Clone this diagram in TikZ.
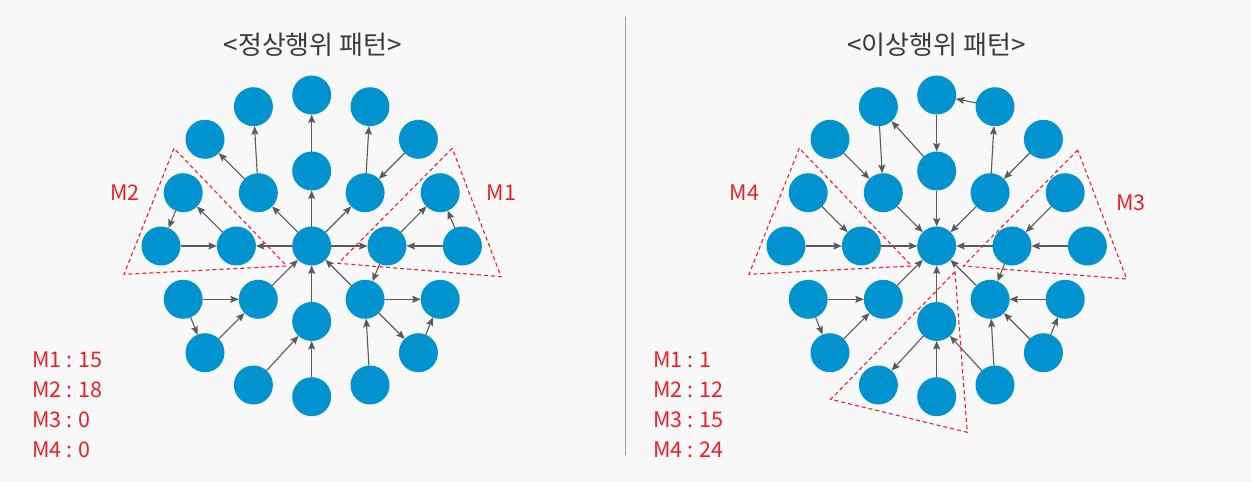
\documentclass[tikz,border=0pt]{standalone}
\usepackage{fontspec}
\setmainfont{Noto Sans CJK KR}
\usetikzlibrary{arrows.meta}
\definecolor{bg}{HTML}{F8F8F8}
\definecolor{nodeblue}{HTML}{0093D0}
\definecolor{arrowgray}{HTML}{5A5A5A}
\definecolor{mred}{HTML}{E8202A}
\definecolor{titlegray}{HTML}{3A3A3A}
\definecolor{sepgray}{HTML}{A0A0A0}
\newcommand\graphnodes[2]{%
  \foreach \n/\dx/\dy in {c/0/0, iN/0/-75, iNE/53.4/-53.3, iE/75.3/0, iSE/53.4/53.3, iS/0/75.5, iSW/-53.4/53.3, iW/-75.3/0, iNW/-53.4/-53.3,
      oN/0/-151, oNNE/58.3/-139.3, oNE/106.7/-106.7, oENE/128.5/-53.3, oE/150.7/0, oESE/128.5/53.3, oSE/106.7/106.7, oSSE/58.3/139,
      oS/0/150.7, oSSW/-58.3/139, oSW/-106.7/106.7, oWSW/-128.5/53.3, oW/-150.7/0, oWNW/-128.5/-53.3, oNW/-106.7/-106.7, oNNW/-58.3/-139.3}
    {\path (#2,246) ++(\dx,\dy) node[dot] (#1\n) {};}%
}
\begin{document}
\begin{tikzpicture}[x=1pt,y=-1pt,
  dot/.style={circle, fill=nodeblue, minimum size=39pt, inner sep=0pt, outer sep=0pt},
  arr/.style={draw=arrowgray, line width=1.1pt, -{Stealth[length=8.5pt,width=7pt,inset=1.5pt]}},
  motif/.style={draw=mred, dash pattern=on 4pt off 3pt, line width=1.1pt},
  mlabel/.style={text=mred, font=\fontsize{21.5}{25}\selectfont, inner sep=0pt},
  title/.style={text=titlegray, font=\fontsize{26}{30}\selectfont, inner sep=0pt, anchor=base}]
\fill[bg] (0,0) rectangle (1251,482);
\useasboundingbox (0,0) rectangle (1251,482);
% separator
\coordinate (sepTop) at (625,17);
\coordinate (sepBot) at (625,455);
\draw[sepgray, line width=1pt] (sepTop) -- (sepBot);
% titles
\node[title] (tL) at (312.8,54) {<정상행위 패턴>};
\node[title] (tR) at (936.5,54) {<이상행위 패턴>};
% motif triangles (behind)
\draw[motif] (174,148.3) -- (124,274.3) -- (286.7,266) -- cycle;
\draw[motif] (452.3,148.3) -- (338.3,263.3) -- (501,276.7) -- cycle;
\draw[motif] (799.3,148.3) -- (749,274.3) -- (911.7,266) -- cycle;
\draw[motif] (1077.7,150) -- (963.3,266) -- (1126.7,279) -- cycle;
\draw[motif] (955,271.7) -- (830.7,399.3) -- (967.3,432.3) -- cycle;
% nodes
\graphnodes{L}{311.7}
\graphnodes{R}{936.7}
% left edges
\foreach \a/\b in {c/iN, iN/oN, c/iNW, iNW/oNNW, iNW/oNW, c/iNE, iNE/oNNE, oNE/iNE, c/iW, oW/iW, iW/oWNW, oWNW/oW,
   c/iE, oE/iE, iE/oENE, oE/oENE, iE/iSE, iSE/c, iSE/oESE, iSE/oSE, oSE/oESE, oSSE/iSE, iS/c, oS/iS, oSSW/iS,
   iSW/c, oWSW/iSW, oWSW/oSW, oSW/iSW}
  {\draw[arr] (L\a) -- (L\b);}
% right edges
\foreach \a/\b in {iN/c, oN/iN, oNNE/oN, iN/oNNW, oNNW/iNW, oNW/iNW, iNW/c, iNE/oNNE, oNE/iNE, iNE/c, oWNW/iW, oW/iW, iW/c,
   oENE/iE, oE/iE, iE/c, iE/iSE, iSE/c, oESE/iSE, oSE/iSE, oSE/oESE, oSSE/iSE, oSSE/iS, oS/iS, iS/oSSW, iS/c,
   iSW/c, oWSW/iSW, oWSW/oSW, oSW/iSW}
  {\draw[arr] (R\a) -- (R\b);}
% motif labels
\node[mlabel] (m2) at (125,192.7) {M2};
\node[mlabel] (m1) at (501.5,192.7) {M1};
\node[mlabel] (m4) at (744.5,192.7) {M4};
\node[mlabel] (m3) at (1131,202.7) {M3};
% counts
\node[mlabel, anchor=base west] (lc1) at (32,367) {M1 : 15};
\node[mlabel, anchor=base west] (lc2) at (32,397) {M2 : 18};
\node[mlabel, anchor=base west] (lc3) at (32,427) {M3 : 0};
\node[mlabel, anchor=base west] (lc4) at (32,457) {M4 : 0};
\node[mlabel, anchor=base west] (rc1) at (653,367) {M1 : 1};
\node[mlabel, anchor=base west] (rc2) at (653,397) {M2 : 12};
\node[mlabel, anchor=base west] (rc3) at (653,427) {M3 : 15};
\node[mlabel, anchor=base west] (rc4) at (653,457) {M4 : 24};
\end{tikzpicture}
\end{document}
